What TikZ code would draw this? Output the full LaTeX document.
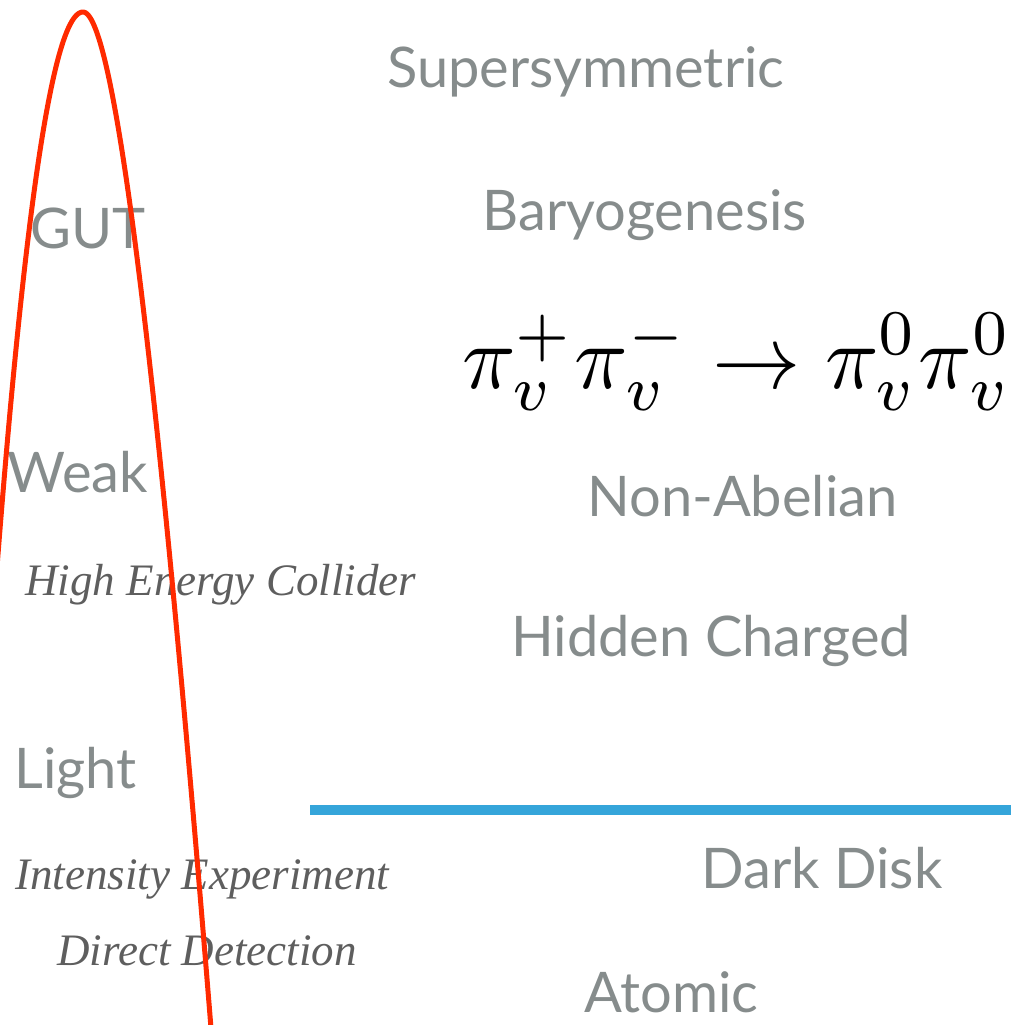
\documentclass[tikz,border=0pt]{standalone}
\usepackage{fontspec}
\usepackage{graphicx}
\setmainfont{Lato}
\newfontfamily\notefont{Liberation Serif}
\usepackage{tikz}
\usetikzlibrary{positioning, calc}

\definecolor{labelgray}{HTML}{868C8C}
\definecolor{notegray}{HTML}{5E5E5E}
\definecolor{curvered}{HTML}{FF2A00}
\definecolor{lineblue}{HTML}{35A5DA}

\begin{document}
\begin{tikzpicture}[
    x=0.5pt, y=-0.5pt,
    model/.style={anchor=base west, inner sep=0pt, text=labelgray, font=\fontsize{28}{32}\selectfont},
    probe/.style={anchor=base west, inner sep=0pt, text=notegray, font=\notefont\itshape\fontsize{22.5}{26}\selectfont},
    divider/.style={line width=5pt, lineblue},
    envelope/.style={line width=2.5pt, curvered, line join=round}
]
\useasboundingbox (0,0) rectangle (1011,1025);

% Energy scale labels
\node[model] (gut) at (30,248) {GUT};
\node[model] (weak) at (7,492) {Weak};
\node[model] (light) at (14,788) {Light};

% Experiments
\node[probe] (collider) at (25,595) {High Energy Collider};
\node[probe] (intensity) at (15,889) {Intensity Experiment};
\node[probe] (direct) at (57,965) {Direct Detection};

% Models
\node[model] (susy) at (387,87) {Supersymmetric};
\node[model] (baryo) at (482,230) {Baryogenesis};
\node[anchor=base west, inner sep=0pt] (process) at (462,388) {\scalebox{4.42}[4.55]{$\pi_v^+\pi_v^-\to\pi_v^0\pi_v^0$}};
\node[model] (nonab) at (587,516) {Non-Abelian};
\node[model] (charged) at (511,656) {Hidden Charged};
\node[model] (disk) at (701,888) {Dark Disk};
\node[model] (atomic) at (584,1012) {Atomic};

% Divider
\coordinate (divL) at (310,810);
\coordinate (divR) at (1011,810);
\draw[divider] (divL) -- (divR);

% Red envelope
\begin{scope}
\clip (0,0) rectangle (1011,1025);
\draw[envelope] plot[domain=-26:0, samples=60, variable=\t] ({83+3.65*\t},{12+(\t)*(\t)})
  -- plot[domain=0:32, samples=70, variable=\t] ({83+2.9*\t+0.035*(\t)*(\t)},{12+(\t)*(\t)});
\end{scope}

\end{tikzpicture}
\end{document}
